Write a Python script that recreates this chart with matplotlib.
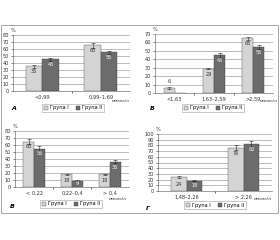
#! /usr/bin/env python3
import numpy as np
import matplotlib
matplotlib.use('Agg')
import matplotlib.pyplot as plt
from matplotlib.patches import Rectangle

## four panels, two groups each, percent of patients per category

grp_names = ['Група І', 'Група ІІ']
unit = 'ммоль/л'

cats_a = ['<0,99', '0,99–1,69']
g1_a = [35, 65]
g2_a = [45, 55]
e1_a = [2, 3]
e2_a = [1.5, 2]

cats_b = ['<1,63', '1,63–2,59', '>2,59']
g1_b = [6, 29, 65]
g2_b = [0, 45, 55]
e1_b = [1, 1, 2]
e2_b = [0, 3, 2.5]

cats_v = ['< 0,22', '0,22–0,4', '> 0,4']
g1_v = [65, 18, 18]
g2_v = [55, 9, 36]
e1_v = [3, 1, 1]
e2_v = [3, 0.5, 2]

cats_g = ['1,48–2,26', '> 2,26']
g1_g = [24, 76]
g2_g = [18, 82]
e1_g = [1.5, 4]
e2_g = [1, 5]

W, H = 280, 240
c_light = '#d4d4d4'
c_dark = '#6c6c6c'
fs = 3.6

def rect(x0, y0, x1, y1):
	return [x0 / W, 1 - y1 / H, (x1 - x0) / W, (y1 - y0) / H]

fig = plt.figure(figsize=(W / 100, H / 100), dpi=100)
fig.patches.append(Rectangle((1 / W, 1 - 213 / H), 277 / W, 188 / H,
	transform=fig.transFigure, fill=False, edgecolor='#9a9a9a', lw=0.6))

panels = [
	(cats_a, g1_a, g2_a, e1_a, e2_a, 80, rect(13, 35, 130, 91), 'А', (11, 108), (73, 108), (129, 101)),
	(cats_b, g1_b, g2_b, e1_b, e2_b, 70, rect(155, 34, 273, 93), 'Б', (150, 108), (213, 108), (277, 101)),
	(cats_v, g1_v, g2_v, e1_v, e2_v, 80, rect(15, 131, 129, 187), 'В', (10, 206), (71, 204), (126, 199)),
	(cats_g, g1_g, g2_g, e1_g, e2_g, 100, rect(158, 134, 272, 191), 'Г', (146, 209), (215, 205), (271, 199)),
]

for cats, g1, g2, e1, e2, ymax, pos, letter, lpos, legpos, upos in panels:
	ax = fig.add_axes(pos)
	x = np.arange(len(cats))
	w = 0.28
	ax.bar(x - w / 2, g1, w, color=c_light, edgecolor='#555555', lw=0.3, zorder=3, label=grp_names[0])
	ax.bar(x + w / 2, g2, w, color=c_dark, edgecolor='#444444', lw=0.3, zorder=3, label=grp_names[1])
	for xs, vals, errs in [(x - w / 2, g1, e1), (x + w / 2, g2, e2)]:
		for xi, v, er in zip(xs, vals, errs):
			if v > 0:
				ax.errorbar(xi, v, yerr=er, fmt='none', ecolor='#222222', elinewidth=0.4, capsize=1.2, capthick=0.4, zorder=4)
	for xs, vals, tc in [(x - w / 2, g1, '#333333'), (x + w / 2, g2, 'white')]:
		for xi, v in zip(xs, vals):
			if v <= 0:
				continue
			if v < 8:
				# too short, label goes above
				ax.text(xi, v + ymax * 0.06, str(v), ha='center', va='bottom', fontsize=fs, color='#333333', zorder=5)
			elif v > ymax * 0.3:
				ax.text(xi, v - ymax * 0.05, str(v), ha='center', va='top', fontsize=fs, color=tc, zorder=5)
			else:
				ax.text(xi, v / 2, str(v), ha='center', va='center', fontsize=fs, color=tc, zorder=5)
	ax.set_xlim(-0.5, len(cats) - 0.5)
	ax.set_ylim(0, ymax)
	ax.set_yticks(np.arange(0, ymax + 1, 10))
	ax.yaxis.grid(True, color='#8c8c8c', lw=0.4, zorder=0)
	ax.set_xticks(x)
	ax.set_xticklabels(cats)
	ax.set_xticks(np.arange(0.5, len(cats) - 0.5, 1), minor=True)
	ax.tick_params(axis='x', which='major', length=0, labelsize=fs, pad=2.5, colors='#333333')
	ax.tick_params(axis='x', which='minor', length=1.5, width=0.4, direction='out')
	ax.tick_params(axis='y', length=1.2, width=0.4, labelsize=fs, pad=1.5, colors='#333333')
	for s in ['top', 'right']:
		ax.spines[s].set_visible(False)
	for s in ['left', 'bottom']:
		ax.spines[s].set_linewidth(0.4)
		ax.spines[s].set_color('#555555')
	ax.text(-0.02, 1.04, '%', transform=ax.transAxes, fontsize=fs, color='#333333', ha='left', va='bottom')
	leg = ax.legend(loc='center', bbox_to_anchor=(legpos[0] / W, 1 - legpos[1] / H), bbox_transform=fig.transFigure,
		ncol=2, fontsize=fs, frameon=True, fancybox=False, edgecolor='#888888', handlelength=0.7, handleheight=0.7,
		handletextpad=0.4, columnspacing=1.6, borderpad=0.35)
	leg.get_frame().set_linewidth(0.4)
	fig.text(lpos[0] / W, 1 - lpos[1] / H, letter, fontsize=4.5, fontstyle='italic', fontweight='bold', ha='left', va='center')
	fig.text(upos[0] / W, 1 - upos[1] / H, unit, fontsize=3.0, color='#333333', ha='right', va='center')

fig.savefig('out.png', dpi=100)
